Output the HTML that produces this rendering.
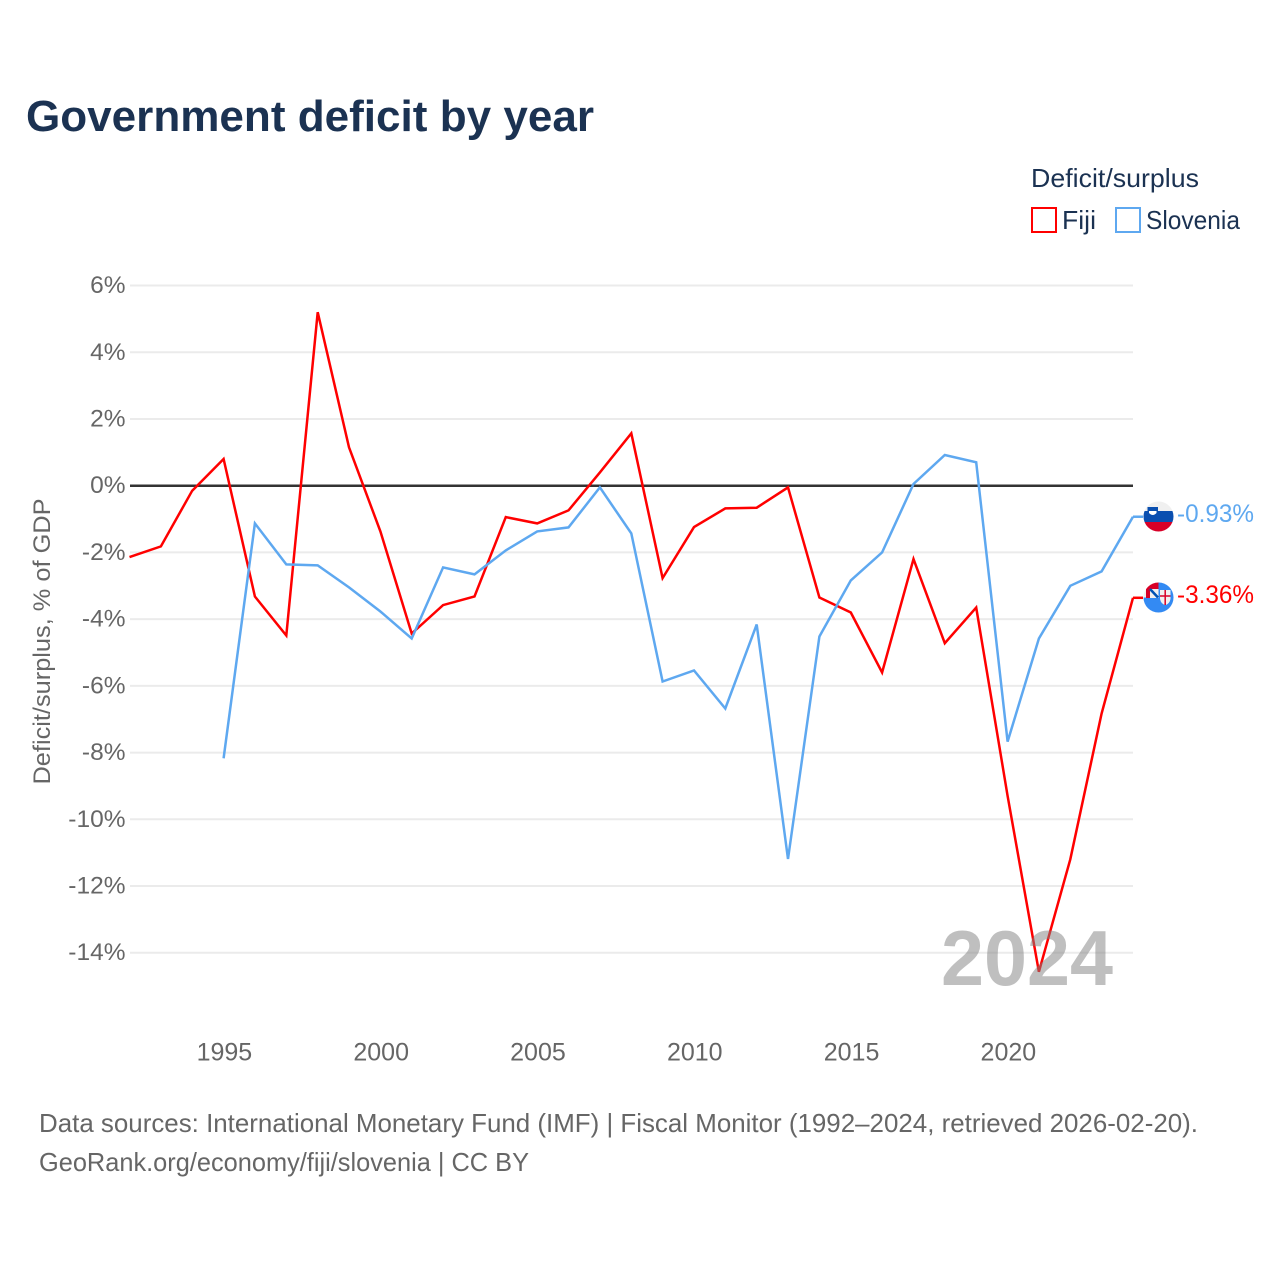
<!DOCTYPE html>
<html lang="en">
<head>
<meta charset="utf-8">
<title>Government deficit by year</title>
<style>
html,body{margin:0;padding:0;background:#fff}
svg{display:block}
text{font-family:"Liberation Sans",sans-serif}
</style>
</head>
<body>
<svg id="chart" xmlns="http://www.w3.org/2000/svg" width="1280" height="1280" viewBox="0 0 1280 1280">
<rect width="1280" height="1280" fill="#fff"/>
<text x="26" y="131" font-size="44" font-weight="700" fill="#1b3252" textLength="568" lengthAdjust="spacingAndGlyphs">Government deficit by year</text>
<g id="plot"></g>
<g id="series"></g>
<text x="1113" y="985" text-anchor="end" font-size="78" font-weight="700" fill="#808080" fill-opacity="0.5" textLength="172" lengthAdjust="spacingAndGlyphs">2024</text>
<text transform="translate(50 641.500) rotate(-90)" text-anchor="middle" font-size="24" fill="#666" textLength="286" lengthAdjust="spacingAndGlyphs">Deficit/surplus, % of GDP</text>
<g>
<text x="1031" y="187" font-size="26" fill="#1b3252" textLength="168" lengthAdjust="spacingAndGlyphs">Deficit/surplus</text>
<rect x="1032" y="208" width="24" height="24" fill="#fff" stroke="#ff0000" stroke-width="2"/>
<text x="1062" y="229" font-size="26" fill="#1b3252" textLength="34" lengthAdjust="spacingAndGlyphs">Fiji</text>
<rect x="1116" y="208" width="24" height="24" fill="#fff" stroke="#5ea8f0" stroke-width="2"/>
<text x="1146" y="229" font-size="26" fill="#1b3252" textLength="94" lengthAdjust="spacingAndGlyphs">Slovenia</text>
</g>
<defs>
<clipPath id="clip-si"><circle cx="1158.500" cy="516.500" r="15"/></clipPath>
<clipPath id="clip-fj"><circle cx="1158.500" cy="597.500" r="15"/></clipPath>
</defs>
<g clip-path="url(#clip-si)">
<rect x="1143" y="501" width="31" height="10" fill="#f0f0f0"/>
<rect x="1143" y="511" width="31" height="11" fill="#0a4fb0"/>
<rect x="1143" y="522" width="31" height="10" fill="#d80027"/>
<path d="M1147.500 507h10.500v6q-5 6-10.500 0z" fill="#0a4fb0"/>
<path d="M1149 511h7.500v2q-3.700 4-7.500 0z" fill="#fff"/>
</g>
<g clip-path="url(#clip-fj)">
<rect x="1143" y="582" width="31" height="31" fill="#f0f0f0"/>
<rect x="1143" y="597.500" width="31" height="16" fill="#338af3"/>
<rect x="1158.500" y="582" width="16" height="16" fill="#338af3"/>
<rect x="1146" y="582" width="12.500" height="16" fill="#d80027"/>
<rect x="1150" y="589" width="8.500" height="9" fill="#f0f0f0"/>
<path d="M1150 589l8 8.500" stroke="#0052b4" stroke-width="2.500"/>
<path d="M1160 590h10.500v9q-1 5-5.200 6-4.300-1-5.300-6z" fill="#f0f0f0"/>
<path d="M1165.200 590v15M1160 596h10.500" stroke="#d80027" stroke-width="1.500"/>
</g>
<text x="1177" y="522" font-size="25" fill="#5ea8f0" textLength="77" lengthAdjust="spacingAndGlyphs">-0.93%</text>
<text x="1177" y="603" font-size="25" fill="#ff0000" textLength="77" lengthAdjust="spacingAndGlyphs">-3.36%</text>
<text x="39" y="1132" font-size="26" fill="#666" textLength="1159" lengthAdjust="spacingAndGlyphs">Data sources: International Monetary Fund (IMF) | Fiscal Monitor (1992–2024, retrieved 2026-02-20).</text>
<text x="39" y="1171" font-size="26" fill="#666" textLength="490" lengthAdjust="spacingAndGlyphs">GeoRank.org/economy/fiji/slovenia | CC BY</text>
</svg>
<script>
const years = [1992,1993,1994,1995,1996,1997,1998,1999,2000,2001,2002,2003,2004,2005,2006,2007,2008,2009,2010,2011,2012,2013,2014,2015,2016,2017,2018,2019,2020,2021,2022,2023,2024];
const fijiValues = [-2.14,-1.82,-0.15,0.8,-3.32,-4.49,5.2,1.15,-1.37,-4.43,-3.58,-3.32,-0.94,-1.13,-0.74,0.4,1.57,-2.77,-1.24,-0.68,-0.66,-0.05,-3.35,-3.8,-5.6,-2.2,-4.72,-3.65,-9.3,-14.57,-11.2,-6.83,-3.36];
const sloveniaValues = [null,null,null,-8.17,-1.13,-2.36,-2.39,-3.05,-3.77,-4.58,-2.45,-2.66,-1.94,-1.37,-1.25,-0.05,-1.43,-5.87,-5.54,-6.68,-4.16,-11.19,-4.52,-2.84,-2.0,0.05,0.92,0.7,-7.67,-4.58,-3.0,-2.57,-0.93];
const yTicks = [6,4,2,0,-2,-4,-6,-8,-10,-12,-14];
const xTicks = [1995,2000,2005,2010,2015,2020];

const NS = 'http://www.w3.org/2000/svg';
const xScale = year => 129.5 + (year - 1992) * (1133 - 129.5) / 32;
const yScale = value => 485.7 - value * 33.36;
const plot = document.getElementById('plot');
const seriesGroup = document.getElementById('series');

function make(tag, attrs, parent, content) {
  const el = document.createElementNS(NS, tag);
  for (const key in attrs) el.setAttribute(key, attrs[key]);
  if (content !== undefined) el.textContent = content;
  parent.appendChild(el);
  return el;
}

yTicks.forEach(tick => {
  const y = yScale(tick);
  if (tick !== 0) {
    const grid = make('line', {x1: 130, x2: 1133, y1: y, y2: y, stroke: '#ebebeb', 'stroke-width': 2}, plot);
    
    
  }
  const label = make('text', {x: 125.5, y: y + 7.5, 'text-anchor': 'end', 'font-size': 24.5, fill: '#666'}, plot, tick + '%');
  
  
});

const zero = make('line', {x1: 130, x2: 1133, y1: yScale(0), y2: yScale(0), stroke: '#333', 'stroke-width': 2.5}, plot);



xTicks.forEach(tick => {
  const label = make('text', {x: xScale(tick) + 0.8, y: 1060.5, 'text-anchor': 'middle', 'font-size': 25, fill: '#666'}, plot, tick);
  
  
});

function linePoints(values) {
  return values.map((v, i) => v === null ? null : xScale(years[i]).toFixed(1) + ',' + yScale(v).toFixed(1)).filter(Boolean).join(' ');
}

const lineFiji = make('polyline', {points: linePoints(fijiValues), fill: 'none', stroke: '#ff0000', 'stroke-width': 2.5}, seriesGroup);



const lineSlovenia = make('polyline', {points: linePoints(sloveniaValues), fill: 'none', stroke: '#5ea8f0', 'stroke-width': 2.5}, seriesGroup);



const endFiji = make('line', {x1: xScale(2024), x2: 1143, y1: yScale(-3.36), y2: yScale(-3.36), stroke: '#ff0000', 'stroke-width': 2.5}, seriesGroup);



const endSlovenia = make('line', {x1: xScale(2024), x2: 1143, y1: yScale(-0.93), y2: yScale(-0.93), stroke: '#5ea8f0', 'stroke-width': 2.5}, seriesGroup);


</script>
</body>
</html>
